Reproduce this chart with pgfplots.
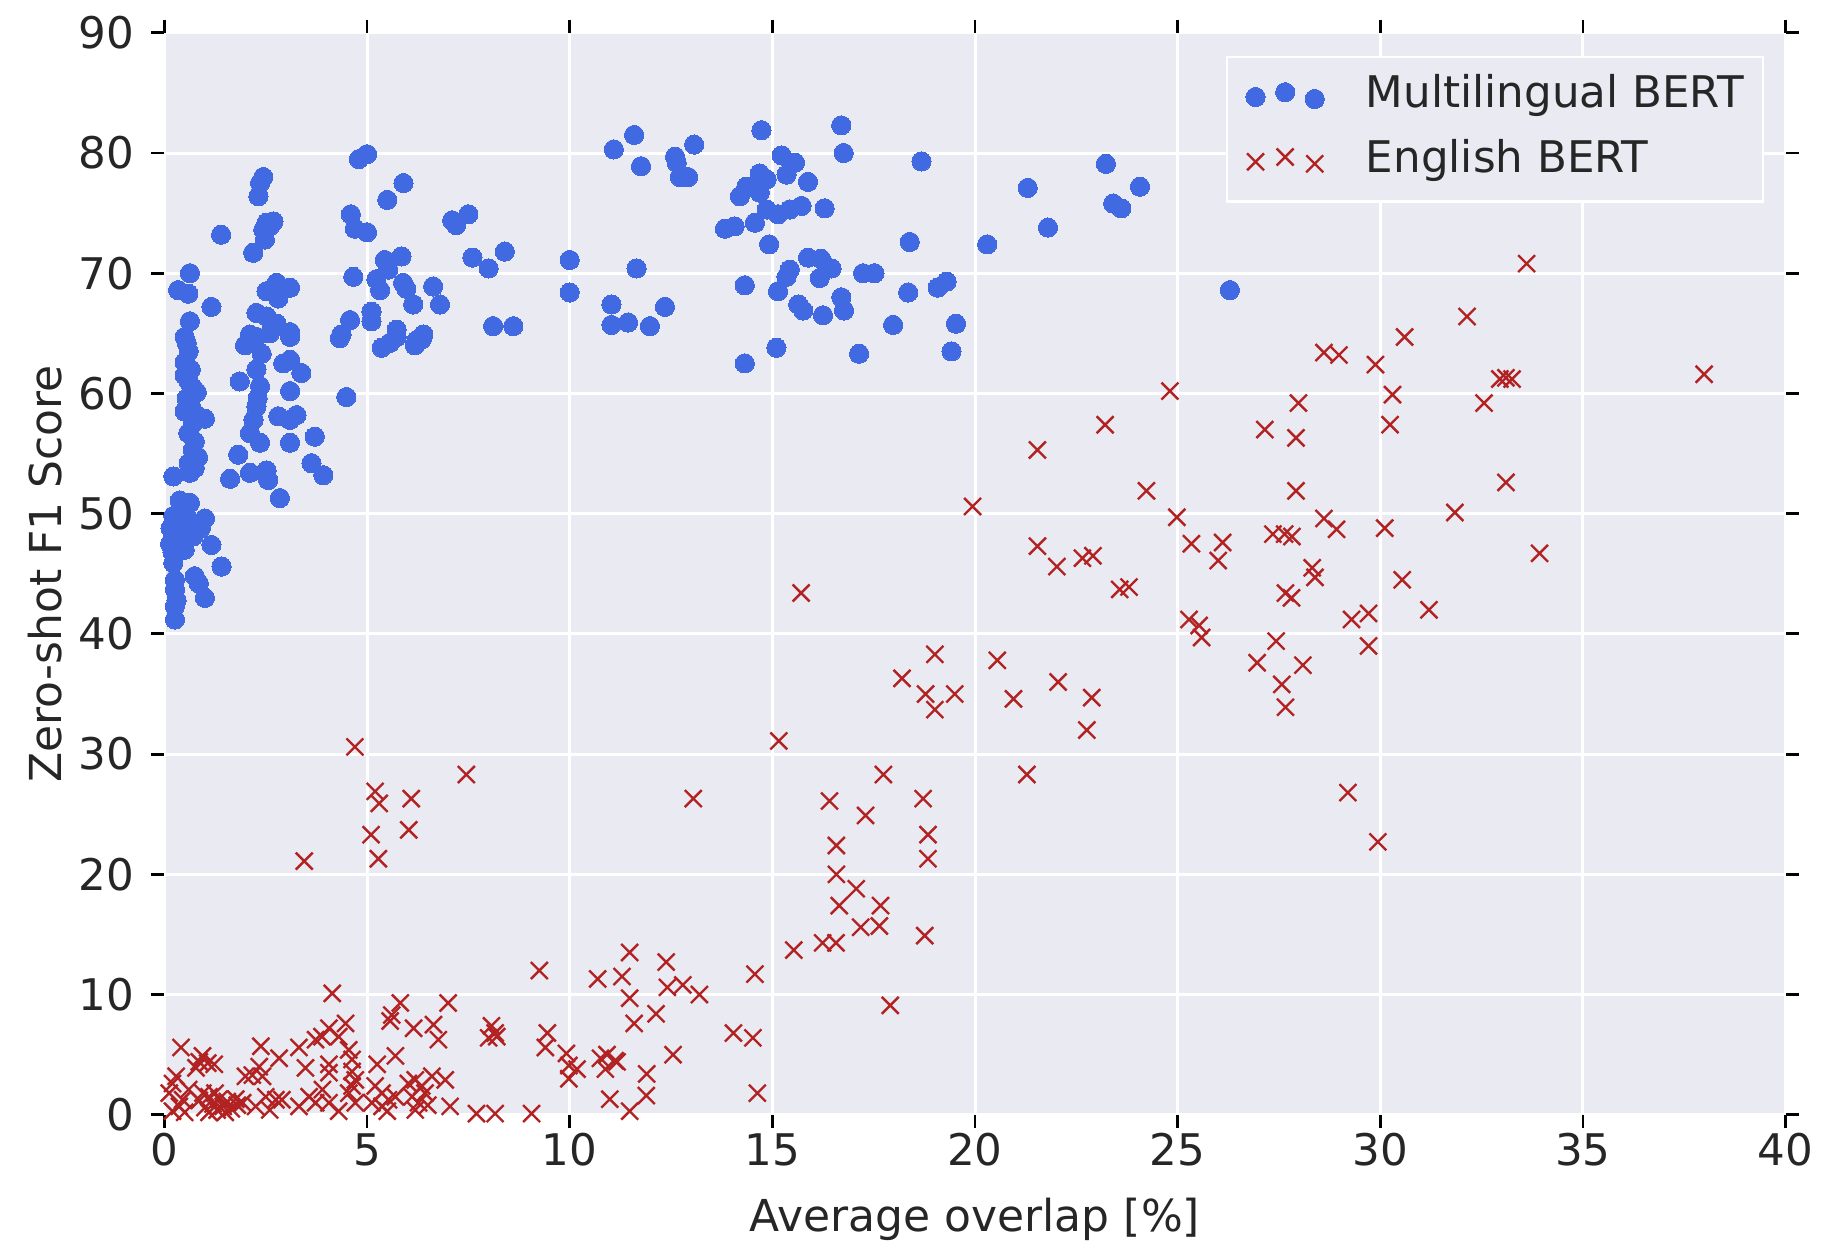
\documentclass[border=0pt]{standalone}
\usepackage{fontspec}
\setmainfont{DejaVu Sans}
\usepackage{pgfplots}
\pgfplotsset{compat=1.18}
\definecolor{bgc}{RGB}{234,234,242}
\definecolor{mblue}{RGB}{65,105,225}
\definecolor{ered}{RGB}{178,34,34}
\definecolor{txt}{RGB}{38,38,38}
\newcommand{\fs}{\fontsize{10.9}{13}\selectfont}
\newcommand{\fl}{\fontsize{11}{13}\selectfont}
\begin{document}
\begin{tikzpicture}
\begin{axis}[
  scale only axis, width=405.3pt, height=270.5pt,
  xmin=0, xmax=40, ymin=0, ymax=90,
  xtick={0,5,...,40}, ytick={0,10,...,90},
  axis background/.style={fill=bgc},
  axis line style={draw=none},
  grid=major, major grid style={white, line width=0.75pt},
  tick align=outside, major tick length=3.3pt,
  every tick/.style={black, line width=0.7pt},
  /pgf/number format/assume math mode=true,
  tick label style={font=\fs, text=txt},
  xticklabel style={anchor=north, inner sep=0pt, yshift=-1.2pt},
  yticklabel style={anchor=east, inner sep=0pt, xshift=-4pt},
  xlabel={Average overlap [\%]},
  ylabel={Zero-shot F1 Score},
  every axis x label/.style={at={(axis description cs:0.5,-0.097)}, anchor=center, font=\fl, text=txt},
  every axis y label/.style={at={(axis description cs:-0.0735,0.5)}, rotate=90, anchor=center, font=\fl, text=txt},
  legend style={at={(1,1)}, anchor=north east, xshift=-5.4pt, yshift=-5.8pt,
    draw=white, line width=0.6pt, fill=bgc, font=\fs, text=txt,
    inner xsep=4.8pt, inner ysep=4.7pt, row sep=5.7pt,
    nodes={inner xsep=0pt, inner ysep=0pt, text height=8pt, text depth=2.5pt},
    /tikz/every odd column/.append style={column sep=10.4pt}},
  legend cell align=left,
  legend image code/.code={\draw plot coordinates {(0pt,0pt) (7.4pt,1.2pt) (14.8pt,-0.5pt)};},
]
\addplot[only marks, mark=*, mark size=2.4pt, mark options={draw=mblue, fill=mblue, line width=0pt}] table {
x y
4.8 79.5
5.0 79.9
2.44 78.0
2.36 77.5
2.32 76.4
5.9 77.5
5.5 76.1
1.4 73.2
2.52 74.2
2.69 74.3
2.44 73.6
2.48 72.8
2.19 71.7
2.6 73.9
4.6 74.9
4.7 73.7
5.0 73.4
7.1 74.4
7.5 74.9
7.2 74.0
10.0 71.1
7.6 71.3
8.0 70.4
8.4 71.8
0.63 70.0
0.34 68.6
0.59 68.3
1.16 67.2
0.63 66.0
2.77 69.2
2.52 68.5
3.10 68.8
2.81 67.9
5.44 71.1
5.85 71.4
5.52 70.3
5.23 69.5
5.32 68.6
5.89 69.2
5.97 68.7
6.14 67.4
6.63 68.9
6.80 67.4
4.66 69.7
10.0 68.4
8.11 65.6
8.61 65.6
4.58 66.1
5.11 66.8
5.11 66.0
4.37 64.9
5.73 65.3
6.39 64.9
6.22 64.4
2.27 66.7
2.52 66.4
2.11 64.9
2.77 65.8
3.10 65.1
2.6 65.0
0.5 64.7
0.55 64.2
0.6 63.5
0.5 62.6
0.65 62.0
0.5 61.5
0.6 61.0
0.7 60.5
0.8 60.1
0.55 59.6
0.65 59.0
0.5 58.5
0.8 58.2
0.7 57.5
1.0 57.9
0.59 56.7
0.75 56.0
0.7 55.3
0.83 54.7
0.6 54.2
0.63 53.4
0.22 53.1
0.75 53.8
1.99 64.0
2.27 64.7
3.1 64.7
4.33 64.6
3.1 62.8
2.93 62.5
3.38 61.7
1.86 61.0
2.27 62.0
2.4 63.3
2.36 60.6
3.1 60.2
4.49 59.7
2.27 58.9
2.3 59.6
2.81 58.1
3.26 58.2
3.1 57.8
2.2 57.8
2.11 56.7
2.36 55.9
3.1 55.9
3.71 56.4
1.82 54.9
1.62 52.9
2.11 53.4
2.52 53.6
2.56 52.8
3.63 54.2
3.92 53.2
2.85 51.3
5.36 63.8
5.56 64.2
5.73 64.7
6.35 64.5
6.18 64.0
0.38 51.1
0.63 50.9
1.0 49.6
0.22 49.8
0.46 48.6
0.71 48.1
1.16 47.4
0.14 47.5
0.22 45.9
1.41 45.6
0.75 44.8
1.0 43.0
0.26 43.7
0.26 42.3
0.26 41.2
0.3 48.5
0.5 47.0
0.6 49.5
0.2 46.8
0.4 50.3
0.15 48.8
0.9 48.8
0.26 44.5
0.85 44.2
0.3 42.8
11.59 81.5
11.09 80.3
11.76 78.9
12.6 79.7
12.64 79.2
12.72 78.0
12.92 78.0
13.07 80.7
14.73 81.9
16.7 82.3
16.76 80.0
18.68 79.3
15.23 79.8
15.56 79.2
15.35 78.2
15.88 77.6
14.69 78.3
14.86 77.8
14.36 77.2
14.2 76.4
14.69 76.7
14.86 75.3
15.14 74.9
15.43 75.3
15.72 75.6
16.29 75.4
13.83 73.7
14.07 73.9
14.57 74.2
14.92 72.4
18.39 72.6
20.3 72.4
11.65 70.4
11.03 67.4
11.03 65.7
11.44 65.9
11.98 65.6
12.35 67.2
14.32 69.0
15.14 68.5
15.35 69.7
15.43 70.3
15.88 71.3
16.2 71.2
16.46 70.4
16.17 69.6
17.24 70.0
17.52 70.0
15.64 67.4
15.76 66.9
16.25 66.5
16.7 68.0
16.77 66.9
18.35 68.4
19.08 68.8
19.3 69.3
17.98 65.7
19.53 65.8
19.42 63.5
14.32 62.5
15.1 63.8
17.14 63.3
21.3 77.1
21.8 73.8
23.23 79.1
24.07 77.2
23.41 75.8
23.61 75.4
26.29 68.6
};
\addlegendentry{Multilingual BERT}
\addplot[only marks, mark=x, mark size=3.0pt, mark options={draw=ered, line width=0.6pt}] table {
x y
33.61 70.8
32.14 66.4
30.6 64.7
29.88 62.4
28.61 63.4
28.98 63.2
32.95 61.2
33.1 61.3
33.25 61.2
32.56 59.2
37.99 61.6
24.81 60.2
27.98 59.2
30.3 59.9
30.24 57.4
23.21 57.4
27.15 57.0
27.92 56.3
21.54 55.3
24.23 51.9
27.92 51.9
33.1 52.6
24.98 49.7
31.84 50.1
28.61 49.6
28.92 48.7
30.11 48.8
21.54 47.3
22.02 45.6
22.65 46.3
22.91 46.5
25.34 47.5
26.11 47.6
26.0 46.1
27.35 48.3
27.64 48.3
27.82 48.1
28.32 45.5
28.39 44.7
30.54 44.5
33.93 46.7
23.57 43.7
23.8 43.9
27.66 43.4
27.81 43.0
31.2 42.0
29.29 41.2
29.71 41.7
25.28 41.2
25.53 40.7
25.59 39.7
27.43 39.4
29.71 39.0
26.96 37.6
28.09 37.4
27.57 35.8
27.66 33.9
20.95 34.6
22.05 36.0
22.88 34.7
22.76 32.0
20.55 37.8
29.2 26.8
29.94 22.7
19.94 50.6
15.71 43.4
19.01 38.3
18.2 36.3
18.78 35.0
19.01 33.7
19.5 35.0
21.28 28.3
15.16 31.1
17.74 28.3
18.72 26.3
16.41 26.1
17.3 24.9
18.84 23.3
18.84 21.3
16.58 22.4
16.58 20.0
17.07 18.8
16.65 17.4
17.67 17.4
17.18 15.6
17.64 15.7
18.76 14.9
16.24 14.3
16.57 14.3
15.53 13.7
17.91 9.1
14.57 11.7
14.04 6.8
14.52 6.4
14.63 1.8
13.05 26.3
12.55 5.0
13.2 10.0
12.41 10.6
12.79 10.8
12.38 12.7
11.48 13.5
10.69 11.3
11.29 11.5
11.48 9.7
12.13 8.4
11.59 7.6
9.25 12.0
9.45 6.8
9.4 5.6
9.92 5.1
9.98 3.0
10.18 3.8
9.98 4.1
10.76 4.7
10.92 5.0
11.12 4.5
10.88 3.8
11.17 4.4
11.9 3.4
11.89 1.6
10.99 1.3
11.48 0.3
3.45 21.1
4.7 30.6
5.2 26.9
5.3 25.9
5.1 23.3
5.28 21.3
6.09 26.3
6.03 23.7
7.45 28.3
4.14 10.1
0.41 5.6
0.94 4.9
1.07 4.3
0.78 3.9
1.23 4.2
0.86 4.4
2.38 5.7
2.83 4.7
3.32 5.6
3.48 3.9
2.17 3.3
2.42 3.2
3.89 6.5
4.06 7.2
4.47 7.6
4.06 4.2
4.06 3.5
4.55 5.4
4.63 4.6
4.63 3.6
4.71 2.9
4.3 6.5
3.73 6.25
5.61 8.3
5.82 9.3
5.57 7.8
6.15 7.2
6.64 7.5
6.76 6.25
7.0 9.3
5.25 4.2
5.7 4.9
8.07 7.4
8.16 6.8
8.0 6.4
8.2 6.5
7.05 0.7
7.7 0.1
8.16 0.1
9.06 0.1
0.2 2.6
0.29 3.2
0.12 1.8
0.45 1.25
0.37 0.7
0.2 0.3
0.6 2.1
0.5 0.2
0.86 1.2
1.0 0.6
1.1 1.5
1.2 0.9
1.3 0.4
1.35 1.3
1.45 0.7
1.55 1.1
1.65 0.5
1.76 1.3
1.1 0.2
1.25 1.8
0.95 1.8
1.5 0.2
1.8 0.8
2.0 3.2
2.34 4.0
1.93 1.0
2.25 0.7
2.5 1.5
2.75 1.25
2.9 1.25
2.6 0.4
3.32 0.7
3.57 1.5
3.73 1.0
4.06 1.0
4.55 1.8
4.71 1.0
4.63 2.4
3.9 2.1
4.3 0.3
5.2 2.4
5.37 1.8
5.53 1.25
5.37 0.7
5.12 1.0
5.7 1.5
5.5 0.3
6.02 2.6
6.19 2.9
6.35 2.4
6.11 1.5
6.27 1.0
6.43 1.8
6.19 0.4
6.6 3.2
6.93 2.9
6.5 0.8
};
\addlegendentry{English BERT}
\coordinate (ll) at (rel axis cs:0,0);
\coordinate (ur) at (rel axis cs:1,1);
\end{axis}
\path (ll) ++(-41.1pt,-34.8pt);
\path (ur) ++(14.1pt,8.2pt);
\end{tikzpicture}
\end{document}
